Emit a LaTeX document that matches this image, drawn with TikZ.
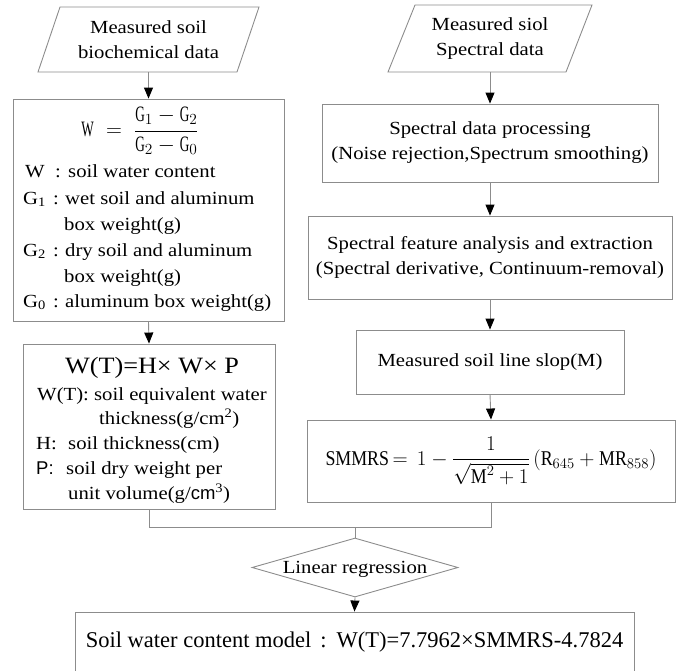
\RequirePackage{fix-cm}
\documentclass[tikz,border=0pt]{standalone}
\usepackage{amsmath}
\usepackage{fontspec}
\setmainfont{Liberation Serif}[FakeStretch=1.12]
\setsansfont{Liberation Sans}
\newfontfamily\plainserif{Liberation Serif}[FakeStretch=1.0]
\newfontfamily\condserif{Liberation Serif}[FakeStretch=0.6]
\newfontfamily\fmserif{Liberation Serif}[FakeStretch=0.85]
\usetikzlibrary{arrows.meta,shapes.geometric}
\definecolor{linegray}{RGB}{140,140,140}
\tikzset{
  box/.style={draw=linegray, line width=0.9pt, rectangle, inner sep=0pt, align=center},
  conn/.style={draw=linegray, line width=0.9pt},
  arr/.style={conn, -{Triangle[length=11pt,width=9pt,color=black,fill=black]}},
  txt/.style={inner sep=0pt, anchor=base west},
  ghost/.style={inner sep=0pt, align=center},
}
\begin{document}
\begin{tikzpicture}[x=1pt, y=-1pt, font=\fontsize{18.5}{25}\selectfont]
\useasboundingbox (0,0) rectangle (679,670);
\clip (0,0) rectangle (679,670);

% input parallelograms
\draw[conn] (60,7) -- (259,7) -- (237,72) -- (38,72) -- cycle;
\node[ghost, minimum height=65pt] (p1) at (148.5,39.5) {Measured soil\\biochemical data};
\draw[conn] (415,5) -- (592,5) -- (566,72) -- (388,72) -- cycle;
\node[ghost, minimum height=67pt] (p2) at (490,38.5) {Measured siol\\Spectral data};

% left column boxes
\node[box, minimum width=271pt, minimum height=222pt] (b1) at (148.5,210) {};
\node[txt, anchor=base] (f1) at (140,136.5) {\condserif\fontsize{22}{26}\selectfont $\mbox{W} \;=\; \dfrac{\mbox{G}_1 - \mbox{G}_2}{\mbox{G}_2 - \mbox{G}_0}$};
\node[txt] (l1) at (25,177) {\makebox[30pt][l]{W}\makebox[13pt][l]{:}soil water content};
\node[txt] (l2) at (23,204) {\makebox[30pt][l]{G\textsubscript{1}}\makebox[12pt][l]{:}wet soil and aluminum};
\node[txt] (l3) at (64,230) {box weight(g)};
\node[txt] (l4) at (23,256) {\makebox[30pt][l]{G\textsubscript{2}}\makebox[12pt][l]{:}dry soil and aluminum};
\node[txt] (l5) at (64,282) {box weight(g)};
\node[txt] (l6) at (23,307) {\makebox[30pt][l]{G\textsubscript{0}}\makebox[12pt][l]{:}aluminum box weight(g)};

\node[box, minimum width=252pt, minimum height=165pt] (b2) at (149,426.5) {};
\node[txt, anchor=base] (t0) at (152,373) {\fontsize{23.4}{26}\selectfont W(T)=H\texttimes\ W\texttimes\ P};
\node[txt] (t1) at (37,400) {W(T): soil equivalent water};
\node[txt] (t2) at (99,424) {thickness(g/cm\textsuperscript{2})};
\node[txt] (t3) at (36,449) {\makebox[32pt][l]{H:}soil thickness(cm)};
\node[txt] (t4) at (36,474) {\makebox[30pt][l]{\sffamily P:}soil dry weight per};
\node[txt] (t5) at (68,499) {unit volume(g/{\sffamily cm}\textsuperscript{3})};

% right column boxes
\node[box, minimum width=336pt, minimum height=78pt] (r1) at (490,143)
  {Spectral data processing\\(Noise rejection,Spectrum smoothing)};
\node[box, minimum width=364pt, minimum height=83pt] (r2) at (490,257.5)
  {Spectral feature analysis and extraction\\(Spectral derivative, Continuum-removal)};
\node[box, minimum width=268pt, minimum height=64pt] (r3) at (490,362)
  {Measured soil line slop(M)};
\node[box, minimum width=368pt, minimum height=82pt] (r4) at (491,461)
  {\fmserif\fontsize{21}{26}\selectfont SMMRS$\,=\,1-\dfrac{1}{\sqrt{\mbox{M}^2+1}}\,(\mbox{R}_{645}+\mbox{MR}_{858})$};

% decision and result
\node[diamond, draw=linegray, line width=0.9pt, inner sep=0pt, minimum width=206pt, minimum height=59pt] (d) at (355,567.5)
  {\makebox[0pt][c]{\raisebox{-0.35em}[0pt][0pt]{Linear regression}}};
\node[box, minimum width=559pt, minimum height=61pt] (bm) at (354.5,642.5)
  {\plainserif\fontsize{22.5}{26}\selectfont Soil water content model\hspace{9pt}:\hspace{10pt}W(T)=7.7962\texttimes SMMRS-4.7824};

\coordinate (j) at (355,527);

% connectors
\draw[arr] (p1.south) -- (b1.north);
\draw[arr] (b1.south) -- (b2.north);
\draw[arr] (p2.south) -- (r1.north);
\draw[arr] (r1.south) -- (r2.north);
\draw[arr] (r2.south) -- (r3.north);
\draw[arr] (r3.south) -- (r4.north);
\draw[conn] (b2.south) -- (b2.south |- j) -- (r4.south |- j) -- (r4.south);
\draw[conn] (j) -- (d.north);
\draw[arr] (d.south) -- (bm.north);
\end{tikzpicture}
\end{document}
